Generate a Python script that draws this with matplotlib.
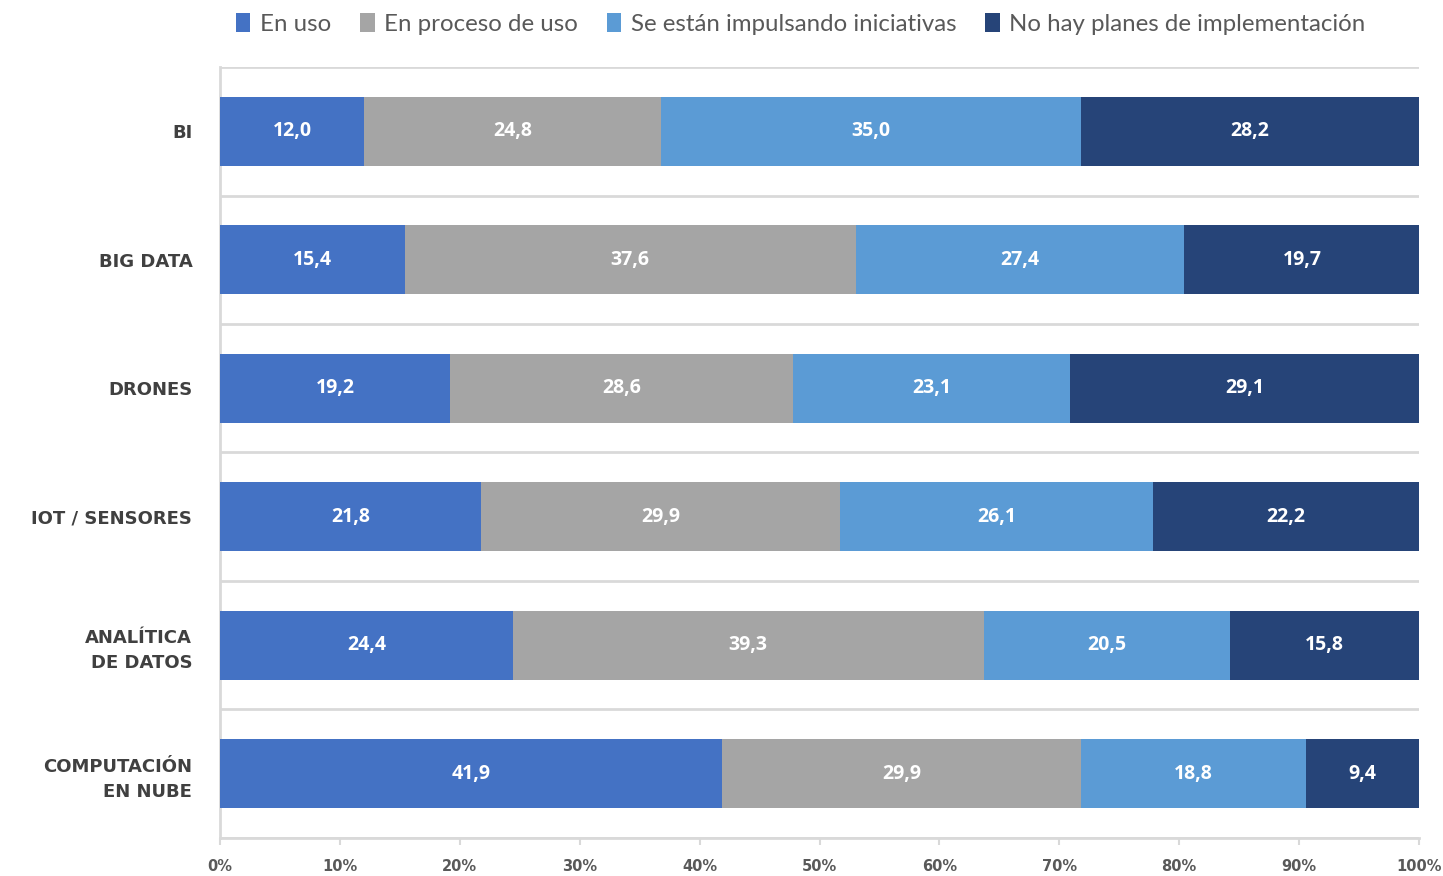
import matplotlib.pyplot as plt
import numpy as np

# Tecnologías y porcentaje de empresas por estado de adopción
categorias = ['BI', 'BIG DATA', 'DRONES', 'IOT / SENSORES',
              'ANALÍTICA\nDE DATOS', 'COMPUTACIÓN\nEN NUBE']
en_uso = [12.0, 15.4, 19.2, 21.8, 24.4, 41.9]
en_proceso = [24.8, 37.6, 28.6, 29.9, 39.3, 29.9]
iniciativas = [35.0, 27.4, 23.1, 26.1, 20.5, 18.8]
sin_planes = [28.2, 19.7, 29.1, 22.2, 15.8, 9.4]

series = [
    ('En uso', en_uso, '#4472C4'),
    ('En proceso de uso', en_proceso, '#A5A5A5'),
    ('Se están impulsando iniciativas', iniciativas, '#5B9BD5'),
    ('No hay planes de implementación', sin_planes, '#264478'),
]

fig = plt.figure(figsize=(14.43, 8.76), dpi=100)
ax = fig.add_axes([0.1525, 0.0434, 0.8309, 0.8801])

y = np.arange(len(categorias))
left = np.zeros(len(categorias))
for nombre, valores, color in series:
    valores = np.array(valores)
    bars = ax.barh(y, valores, left=left, height=0.54, color=color,
                   label=nombre, zorder=3)
    for b, v in zip(bars, valores):
        ax.text(b.get_x() + b.get_width() / 2, b.get_y() + b.get_height() / 2,
                f'{v:.1f}'.replace('.', ','), ha='center', va='center',
                color='white', fontsize=14, fontweight='bold',
                family='Open Sans', zorder=4)
    left += valores

ax.set_xlim(0, 100)
ax.set_ylim(len(categorias) - 0.5, -0.5)

# líneas separadoras entre categorías
for yy in np.arange(-0.5, len(categorias), 1.0):
    ax.axhline(yy, color='#D9D9D9', linewidth=2, zorder=1)

ax.set_yticks(y)
ax.set_yticklabels(categorias, fontsize=13, fontweight='bold',
                   color='#404040', linespacing=1.5, ha='right')
ax.tick_params(axis='y', length=0, pad=20)

ax.set_xticks(np.arange(0, 101, 10))
ax.set_xticklabels([f'{t}%' for t in range(0, 101, 10)], fontsize=10.5,
                   fontweight='bold', color='#595959')
ax.tick_params(axis='x', length=5, color='#D9D9D9', width=1.5, pad=10)

for s in ['top', 'right']:
    ax.spines[s].set_visible(False)
ax.spines['left'].set_color('#D9D9D9')
ax.spines['left'].set_linewidth(2)
ax.spines['bottom'].set_color('#D9D9D9')
ax.spines['bottom'].set_linewidth(2)

fig.legend(loc='center', bbox_to_anchor=(0.555, 0.9726), ncol=4,
           frameon=False, handlelength=0.6, handleheight=0.8,
           handletextpad=0.4, columnspacing=1.2,
           prop={'family': 'Lato', 'size': 17.3}, labelcolor='#595959')

plt.savefig('out.png', dpi=100)
